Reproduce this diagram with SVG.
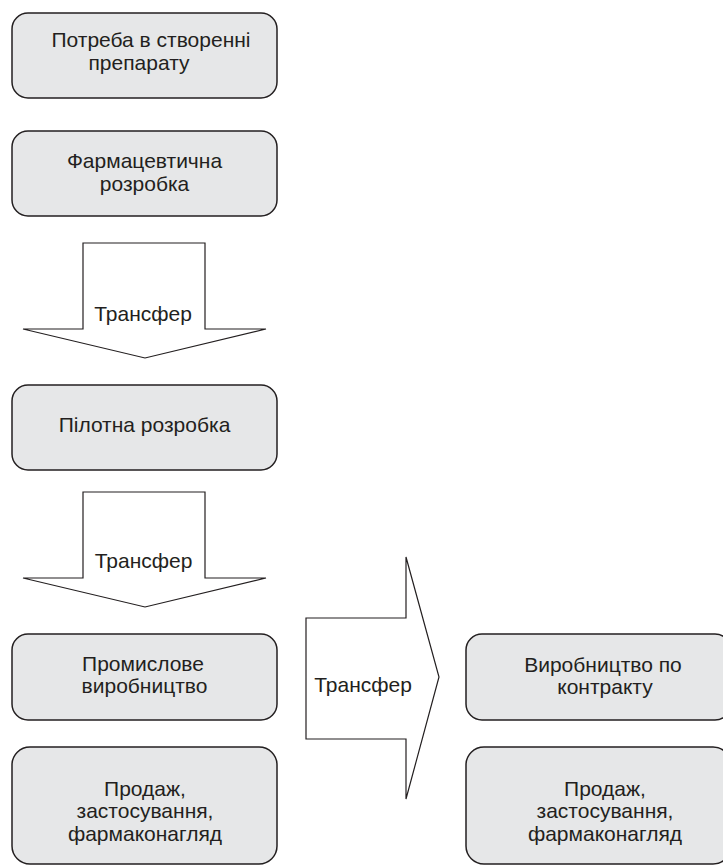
<svg xmlns="http://www.w3.org/2000/svg" width="723" height="866" viewBox="0 0 723 866">
<style>
.box{fill:#e6e7e8;stroke:#231f20;stroke-width:1.5}
.arr{fill:#ffffff;stroke:#231f20;stroke-width:1.2;stroke-linejoin:miter}
text{font-family:"Liberation Sans",Arial,sans-serif;font-size:21px;fill:#231f20;text-anchor:middle}
</style>
<rect width="723" height="866" fill="#ffffff"/>
<g id="n1"><rect class="box" x="12" y="13" width="265" height="85" rx="16"/>
<text x="151" y="47">Потреба в створенні</text><text x="139" y="70">препарату</text></g>
<g id="n2"><rect class="box" x="12" y="131" width="265" height="85" rx="16"/>
<text x="144.5" y="168">Фармацевтична</text><text x="144.5" y="191">розробка</text></g>
<g id="n3"><rect class="box" x="12" y="385" width="265" height="85" rx="16"/>
<text x="144.5" y="432">Пілотна розробка</text></g>
<g id="n4"><rect class="box" x="12" y="634" width="265" height="86" rx="16"/>
<text x="143" y="671">Промислове</text><text x="144.5" y="693">виробництво</text></g>
<g id="n5"><rect class="box" x="12" y="747" width="265" height="117" rx="18"/>
<text x="145" y="796">Продаж,</text><text x="145" y="818">застосування,</text><text x="145" y="841">фармаконагляд</text></g>
<g id="n6"><rect class="box" x="466" y="634" width="265" height="86" rx="16"/>
<text x="603" y="672">Виробництво по</text><text x="605" y="694">контракту</text></g>
<g id="n7"><rect class="box" x="466" y="747" width="265" height="117" rx="18"/>
<text x="605" y="796">Продаж,</text><text x="605" y="818">застосування,</text><text x="605" y="841">фармаконагляд</text></g>
<g id="connectors">
<g id="t1"><polygon class="arr" points="83,243 205,243 205,329 266,329 145,358 23,329 83,329"/>
<text x="143" y="321">Трансфер</text></g>
<g id="t2"><polygon class="arr" points="83,492 205,492 205,578 266,578 145,607 23,578 83,578"/>
<text x="143.5" y="568">Трансфер</text></g>
<g id="t3"><polygon class="arr" points="306,618 406,618 406,557 439,677 406,799 406,739 306,739"/>
<text x="363" y="692">Трансфер</text></g>
</g>
</svg>
